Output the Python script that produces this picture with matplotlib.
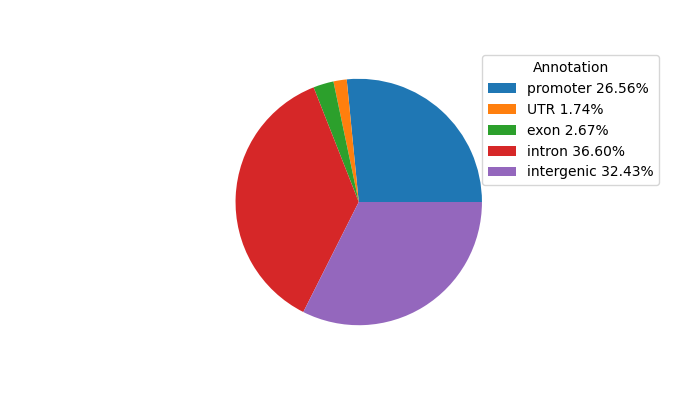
import matplotlib
matplotlib.use("Agg")
import matplotlib.pyplot as plt

categories = ["promoter", "UTR", "exon", "intron", "intergenic"]
percentages = [26.56, 1.74, 2.67, 36.60, 32.43]
colors = ["#1f77b4", "#ff7f0e", "#2ca02c", "#d62728", "#9467bd"]

fig, ax = plt.subplots(figsize=(7, 4), dpi=100)
wedges, _ = ax.pie(percentages, colors=colors)
labels = [f"{c} {p:.2f}%" for c, p in zip(categories, percentages)]
ax.legend(wedges, labels, title="Annotation", loc="upper left",
          bbox_to_anchor=(0.689, 0.862), bbox_transform=fig.transFigure,
          borderaxespad=0)
fig.savefig("out.png", dpi=100)
